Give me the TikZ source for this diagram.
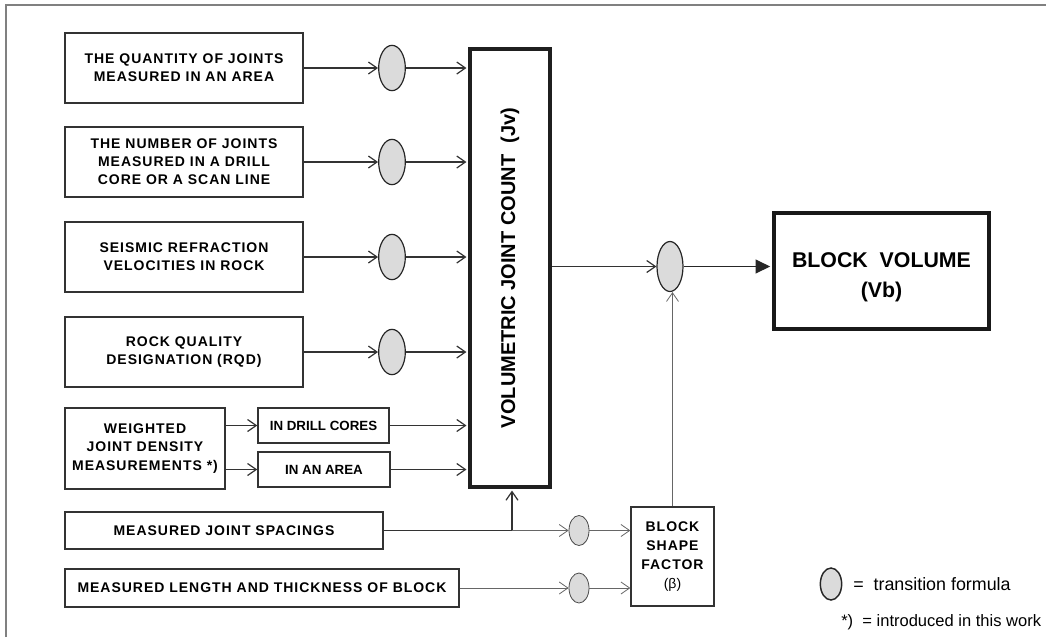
\documentclass[tikz,border=0pt]{standalone}
\usepackage{fontspec}
\setmainfont{Liberation Sans}
\newfontfamily\spc[LetterSpace=7]{Liberation Sans}
\usetikzlibrary{arrows.meta,shapes.geometric}
\begin{document}
\begin{tikzpicture}[x=0.75pt,y=-0.75pt,
  box/.style={draw=black!80, line width=1.1pt, rectangle, inner sep=0pt, align=center,
    font=\spc\bfseries\fontsize{10.5}{13.6}\selectfont},
  plainbox/.style={box, font=\bfseries\fontsize{10}{12.9}\selectfont},
  jvbox/.style={draw=black!88, line width=2.3pt, rectangle, inner sep=0pt},
  bvbox/.style={draw=black!90, line width=3pt, rectangle, inner sep=0pt},
  trans/.style={ellipse, draw=black!85, fill=black!14, line width=0.9pt, inner sep=0pt},
  conn/.style={draw=black!80, line width=0.9pt, -{Straight Barb[length=6.5pt,width=9pt]}},
  thinconn/.style={draw=black!60, line width=0.6pt, -{Straight Barb[length=6.5pt,width=9pt]}},
  bigconn/.style={draw=black!85, line width=0.9pt, -{Triangle[length=11pt,width=10.5pt]}},
]
\useasboundingbox (0,0) rectangle (1046,637);
% frame
\draw[black!50, line width=0.8pt] (6,637) -- (6,5) -- (1046,5);

% input boxes
\node[box, minimum width=178.5pt, minimum height=52.5pt] (q) at (184,68) {THE QUANTITY OF JOINTS\\MEASURED IN AN AREA};
\node[box, minimum width=178.5pt, minimum height=52.5pt] (n) at (184,162) {THE NUMBER OF JOINTS\\MEASURED IN A DRILL\\CORE OR A SCAN LINE};
\node[box, minimum width=178.5pt, minimum height=52.5pt] (s) at (184,257) {SEISMIC REFRACTION\\VELOCITIES IN ROCK};
\node[box, minimum width=178.5pt, minimum height=52.5pt] (r) at (184,352) {ROCK QUALITY\\DESIGNATION (RQD)};
\node[box, minimum width=120pt, minimum height=60.75pt] (w) at (145,448.5) {WEIGHTED\\JOINT DENSITY\\MEASUREMENTS *)};
\node[plainbox, minimum width=98.25pt, minimum height=26.25pt] (dc) at (323.5,425.5) {IN DRILL CORES};
\node[plainbox, minimum width=99pt, minimum height=26.25pt] (ar) at (324,469.5) {IN AN AREA};
\node[box, minimum width=238.5pt, minimum height=27.75pt] (sp) at (224,530.5) {MEASURED JOINT SPACINGS};
\node[box, minimum width=295.5pt, minimum height=28.5pt] (len) at (262,588) {MEASURED LENGTH AND THICKNESS OF BLOCK};

% transition ellipses
\node[trans, minimum width=20pt, minimum height=34pt] (e1) at (392,68) {};
\node[trans, minimum width=20pt, minimum height=34pt] (e2) at (392,162) {};
\node[trans, minimum width=20pt, minimum height=34pt] (e3) at (392,257) {};
\node[trans, minimum width=20pt, minimum height=34pt] (e4) at (392,352) {};

% Jv box
\node[jvbox, minimum width=60pt, minimum height=328.5pt] (jv) at (510,268) {};
\node[rotate=90, font=\bfseries\fontsize{15}{18}\selectfont] (jvt) at (jv.center) {VOLUMETRIC JOINT COUNT~~(Jv)};

% block shape factor
\node[box, minimum width=62.25pt, minimum height=74.25pt, line width=1pt, font=\spc\bfseries\fontsize{10.5}{14.25}\selectfont] (sf) at (672.5,556.5) {BLOCK\\SHAPE\\FACTOR\\{\normalfont (β)}};
\node[trans, minimum width=15pt, minimum height=22.5pt, line width=0.6pt, draw=black!70] (s1) at (579,530.5) {};
\node[trans, minimum width=15pt, minimum height=22.5pt, line width=0.6pt, draw=black!70] (s2) at (579,588) {};

% main ellipse and block volume
\node[trans, minimum width=19.5pt, minimum height=37.5pt] (me) at (670,266.5) {};
\node[bvbox, minimum width=161pt, minimum height=87pt] (bv) at (881.5,271) {};
\node[align=center, font=\bfseries\fontsize{16}{22.5}\selectfont] (bvt) at ([yshift=-5pt]bv.center) {BLOCK~~VOLUME\\(Vb)};

% legend
\node[trans, minimum width=16pt, minimum height=24pt, line width=1.1pt] (lg) at (831,584) {};
\node[anchor=west, font=\fontsize{13.4}{16}\selectfont, inner sep=0pt] (lt) at (853,584) {=~~transition formula};
\node[anchor=west, font=\fontsize{12.4}{15}\selectfont, inner sep=0pt] (lt2) at (841,622) {*)~~= introduced in this work};

% connectors
\foreach \b/\e in {q/e1,n/e2,s/e3,r/e4}{
  \draw[conn] (\b.east) -- (\e.west);
  \draw[conn, shorten >=1.5pt] (\e.east) -- (\e -| jv.west);
}
\draw[conn] (w.east |- dc) -- (dc.west);
\draw[conn] (w.east |- ar) -- (ar.west);
\draw[conn, shorten >=1.5pt] (dc.east) -- (dc -| jv.west);
\draw[conn, shorten >=1.5pt] (ar.east) -- (ar -| jv.west);

\coordinate (jn) at (512,530.5);
\draw[conn, shorten >=1.5pt] (sp.east) -- (jn) -- (jn |- jv.south);
\draw[thinconn] (jn) -- (s1.west);
\draw[thinconn] (len.east) -- (s2.west);
\draw[thinconn] (s1.east) -- (s1 -| sf.west);
\draw[thinconn] (s2.east) -- (s2 -| sf.west);
\draw[thinconn] (sf.north) -- (sf.north |- me.south);
\draw[conn] (me -| jv.east) -- (me.west);
\draw[bigconn, shorten >=1.5pt] (me.east) -- (me -| bv.west);
\end{tikzpicture}
\end{document}
